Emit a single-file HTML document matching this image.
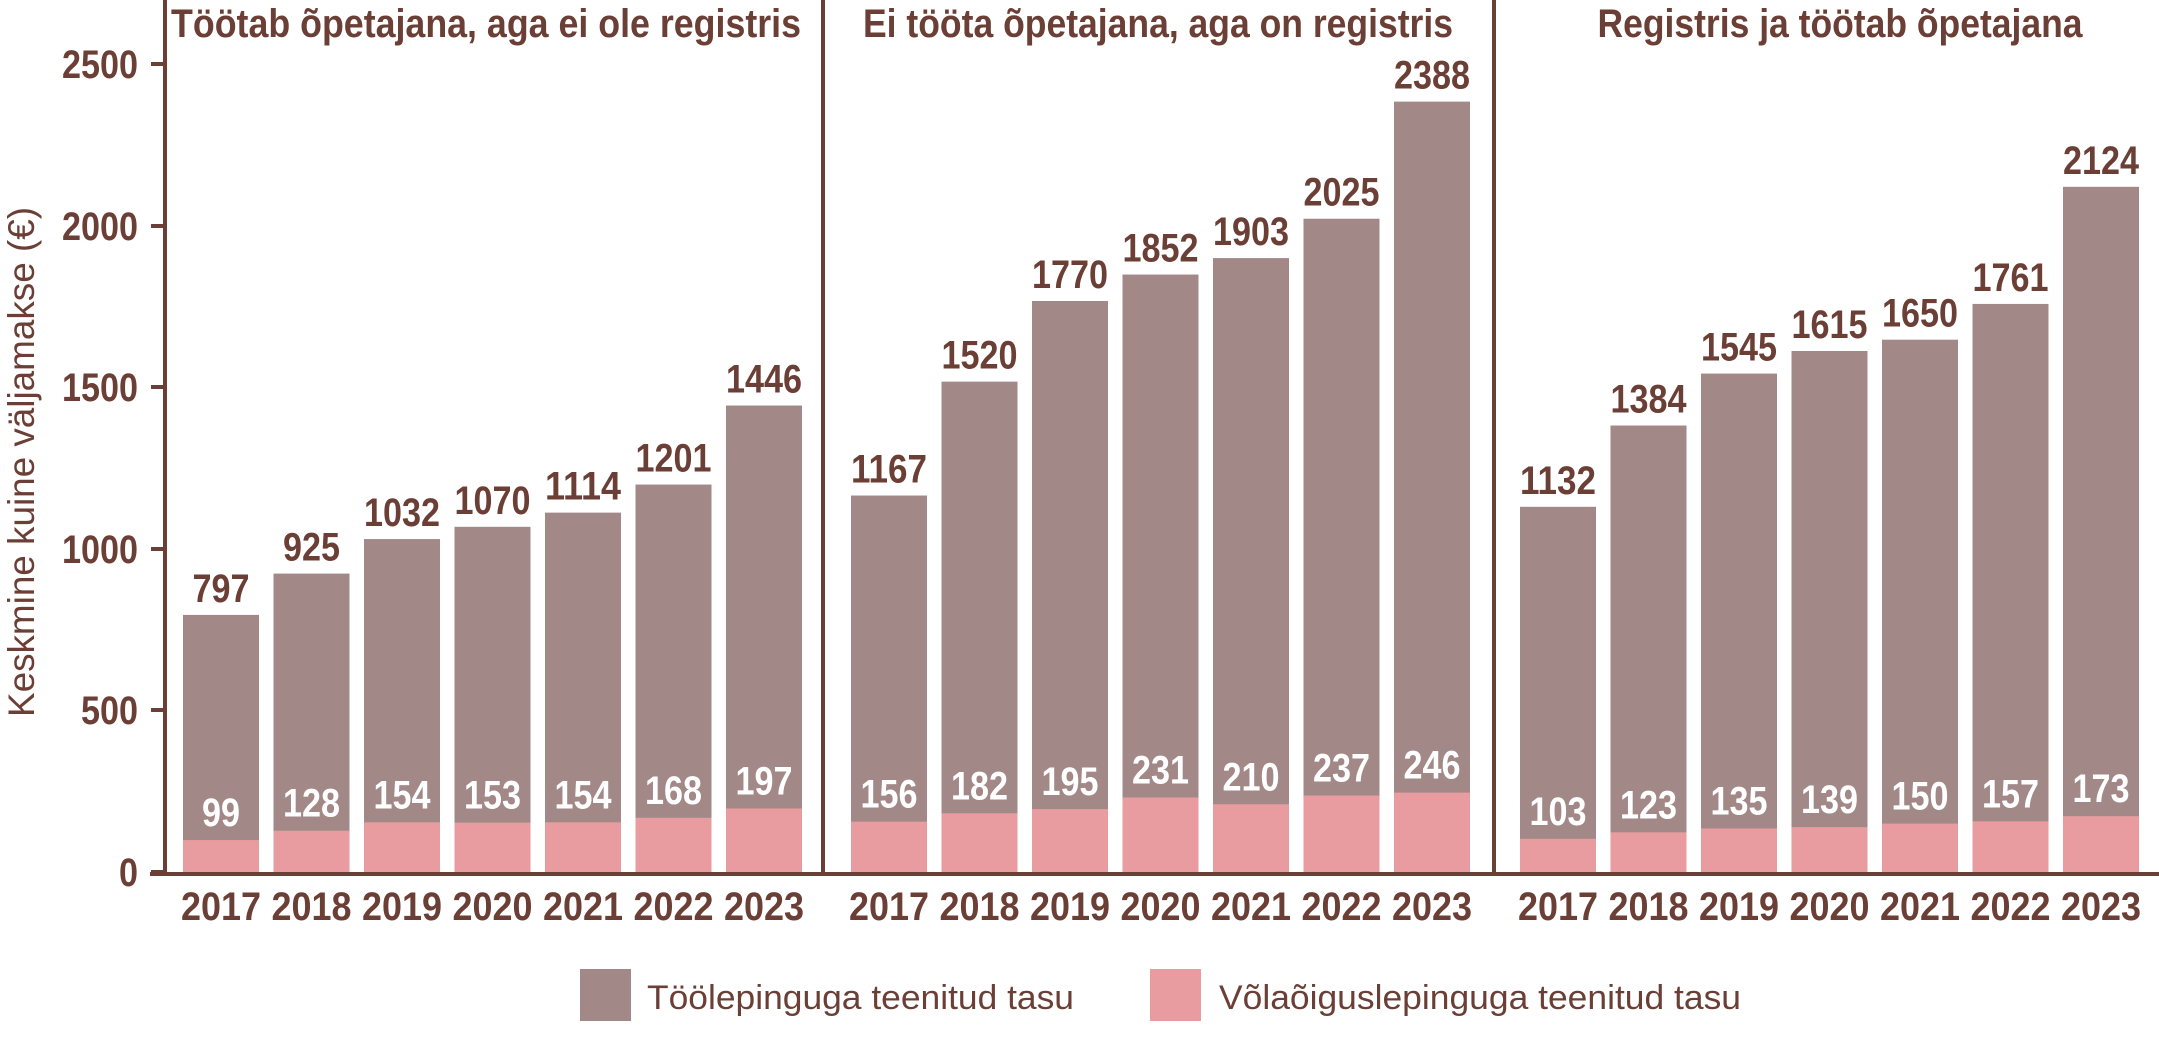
<!DOCTYPE html>
<html><head><meta charset="utf-8"><style>
html,body{margin:0;padding:0;background:#fff}
svg{display:block}
.n{font-family:"Liberation Sans Narrow","Liberation Sans",sans-serif;font-weight:bold;font-size:40px;fill:#6b3f35;text-anchor:middle}
.w{fill:#fff}
.t{font-family:"Liberation Sans Narrow","Liberation Sans",sans-serif;font-weight:bold;font-size:40px;fill:#6b3f35;text-anchor:middle}
.l{font-family:"Liberation Sans",sans-serif;font-size:34px;fill:#6b3f35}
</style></head><body>
<svg width="2159" height="1062" viewBox="0 0 2159 1062" xmlns="http://www.w3.org/2000/svg">
<g id="bars"></g>
<line x1="165" y1="0" x2="165" y2="874" stroke="#6b3f35" stroke-width="4"/>
<line x1="823" y1="0" x2="823" y2="874" stroke="#6b3f35" stroke-width="4"/>
<line x1="1494" y1="0" x2="1494" y2="874" stroke="#6b3f35" stroke-width="4"/>
<line x1="150" y1="874" x2="2159" y2="874" stroke="#6b3f35" stroke-width="4"/>
<g stroke="#6b3f35" stroke-width="4">
<line x1="151" y1="64" x2="165" y2="64"/><line x1="151" y1="226" x2="165" y2="226"/>
<line x1="151" y1="387" x2="165" y2="387"/><line x1="151" y1="549" x2="165" y2="549"/>
<line x1="151" y1="710" x2="165" y2="710"/><line x1="151" y1="872" x2="165" y2="872"/>
</g>
<g class="n" style="text-anchor:end">
<text x="138" y="78" textLength="76" lengthAdjust="spacingAndGlyphs">2500</text>
<text x="138" y="240" textLength="76" lengthAdjust="spacingAndGlyphs">2000</text>
<text x="138" y="401" textLength="76" lengthAdjust="spacingAndGlyphs">1500</text>
<text x="138" y="563" textLength="76" lengthAdjust="spacingAndGlyphs">1000</text>
<text x="138" y="724" textLength="57" lengthAdjust="spacingAndGlyphs">500</text>
<text x="138" y="886" textLength="19" lengthAdjust="spacingAndGlyphs">0</text>
</g>
<text class="l" transform="translate(34,462) rotate(-90)" text-anchor="middle" textLength="510" lengthAdjust="spacingAndGlyphs" style="font-size:37px">Keskmine kuine väljamakse (€)</text>
<text class="t" x="486" y="37" textLength="630" lengthAdjust="spacingAndGlyphs">Töötab õpetajana, aga ei ole registris</text>
<text class="t" x="1158" y="37" textLength="590" lengthAdjust="spacingAndGlyphs">Ei tööta õpetajana, aga on registris</text>
<text class="t" x="1840" y="37" textLength="485" lengthAdjust="spacingAndGlyphs">Registris ja töötab õpetajana</text>
<rect x="580" y="969" width="51" height="52" fill="#a38888"/>
<text class="l" x="647" y="1009" textLength="427" lengthAdjust="spacingAndGlyphs">Töölepinguga teenitud tasu</text>
<rect x="1150" y="969" width="51" height="52" fill="#e89c9f"/>
<text class="l" x="1219" y="1009" textLength="522" lengthAdjust="spacingAndGlyphs">Võlaõiguslepinguga teenitud tasu</text>
<g id="lab"></g>
</svg>
<script>
var data=[[183,[797,925,1032,1070,1114,1201,1446],[99,128,154,153,154,168,197]],
[851,[1167,1520,1770,1852,1903,2025,2388],[156,182,195,231,210,237,246]],
[1520,[1132,1384,1545,1615,1650,1761,2124],[103,123,135,139,150,157,173]]];
var B=872,S=0.3226,P=90.5,W=76,ns="http://www.w3.org/2000/svg";
var g=document.getElementById("bars"),L=document.getElementById("lab");
function el(p,t,a,tx){var e=document.createElementNS(ns,t);for(var k in a)e.setAttribute(k,a[k]);if(tx!==undefined)e.textContent=tx;p.appendChild(e);return e;}
function tl(v){var s=String(v).length;return s*19;}
data.forEach(function(d){for(var i=0;i<7;i++){var x=d[0]+i*P,h=d[1][i]*S,h2=d[2][i]*S;
el(g,"rect",{x:x,y:B-h,width:W,height:h,fill:"#a38888"});
el(g,"rect",{x:x,y:B-h2,width:W,height:h2,fill:"#e89c9f"});
el(L,"text",{"class":"n",x:x+W/2,y:B-h-13,textLength:tl(d[1][i]),lengthAdjust:"spacingAndGlyphs"},d[1][i]);
el(L,"text",{"class":"n w",x:x+W/2,y:B-h2-14,textLength:tl(d[2][i]),lengthAdjust:"spacingAndGlyphs"},d[2][i]);
el(L,"text",{"class":"n",x:x+W/2,y:920,textLength:80,lengthAdjust:"spacingAndGlyphs"},2017+i);}});
</script>
</body></html>
